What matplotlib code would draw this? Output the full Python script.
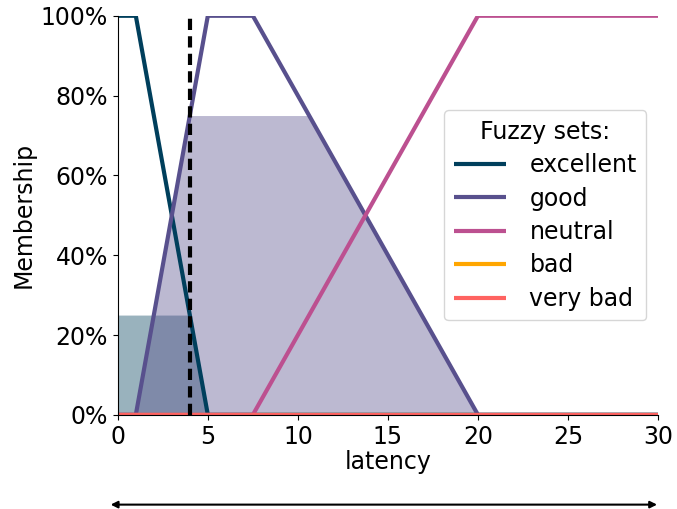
import numpy as np
import matplotlib
matplotlib.use("Agg")
import matplotlib.pyplot as plt
from matplotlib.ticker import PercentFormatter

# Fuzzy set breakpoints (x) and membership values (y)
set_names = ["excellent", "good", "neutral", "bad", "very bad"]
set_colors = ["#003f5c", "#58508d", "#bc5090", "#ffa600", "#ff6361"]
excellent_x = [0, 1, 5, 30]
excellent_y = [1, 1, 0, 0]
good_x = [0, 1, 5, 7.5, 20, 30]
good_y = [0, 0, 1, 1, 0, 0]
neutral_x = [0, 7.5, 20, 30]
neutral_y = [0, 0, 1, 1]
bad_x = [0, 30]
bad_y = [0, 0]
verybad_x = [0, 30]
verybad_y = [0, 0]
input_value = 4
xticks = [0, 5, 10, 15, 20, 25, 30]

plt.rcParams['font.family'] = ['DejaVu Sans']
fig = plt.figure(figsize=(6.77, 5.09), dpi=100)
ax = fig.add_axes([0.174, 0.185, 0.798, 0.784])

xs = np.linspace(0, 30, 3001)
sets = [(excellent_x, excellent_y), (good_x, good_y), (neutral_x, neutral_y),
        (bad_x, bad_y), (verybad_x, verybad_y)]
mems = [np.interp(xs, sx, sy) for sx, sy in sets]
activ = [float(np.interp(input_value, sx, sy)) for sx, sy in sets]

for m, a, c in zip(mems, activ, set_colors):
    if a > 0:
        ax.fill_between(xs, 0, np.minimum(m, a), color=c, alpha=0.4, linewidth=0)

for (sx, sy), name, c in zip(sets, set_names, set_colors):
    ax.plot(sx, sy, color=c, lw=3, label=name, solid_capstyle='butt')

ax.plot([input_value, input_value], [0, 1], color='black', lw=3, ls=(0, (2.7, 1.5)))

ax.set_xlim(0, 30)
ax.set_ylim(0, 1.0)
ax.set_xticks(xticks)
ax.yaxis.set_major_formatter(PercentFormatter(1.0, decimals=0))
ax.tick_params(labelsize=17)
ax.set_xlabel("latency", fontsize=17, labelpad=1)
ax.set_ylabel("Membership", fontsize=17)
for s in ['top', 'right']:
    ax.spines[s].set_visible(False)

leg = ax.legend(title="Fuzzy sets:", fontsize=17, title_fontsize=17,
                loc='center right', bbox_to_anchor=(1.0, 0.5), frameon=True,
                labelspacing=0.4, handletextpad=1.0, handlelength=2.2)

ax.annotate('', xy=(30.1, -0.225), xytext=(-0.55, -0.225), xycoords='data',
            textcoords='data', annotation_clip=False,
            arrowprops=dict(arrowstyle='<|-|>', color='black', lw=1.5,
                            mutation_scale=10))

fig.savefig("out.png", dpi=100)
